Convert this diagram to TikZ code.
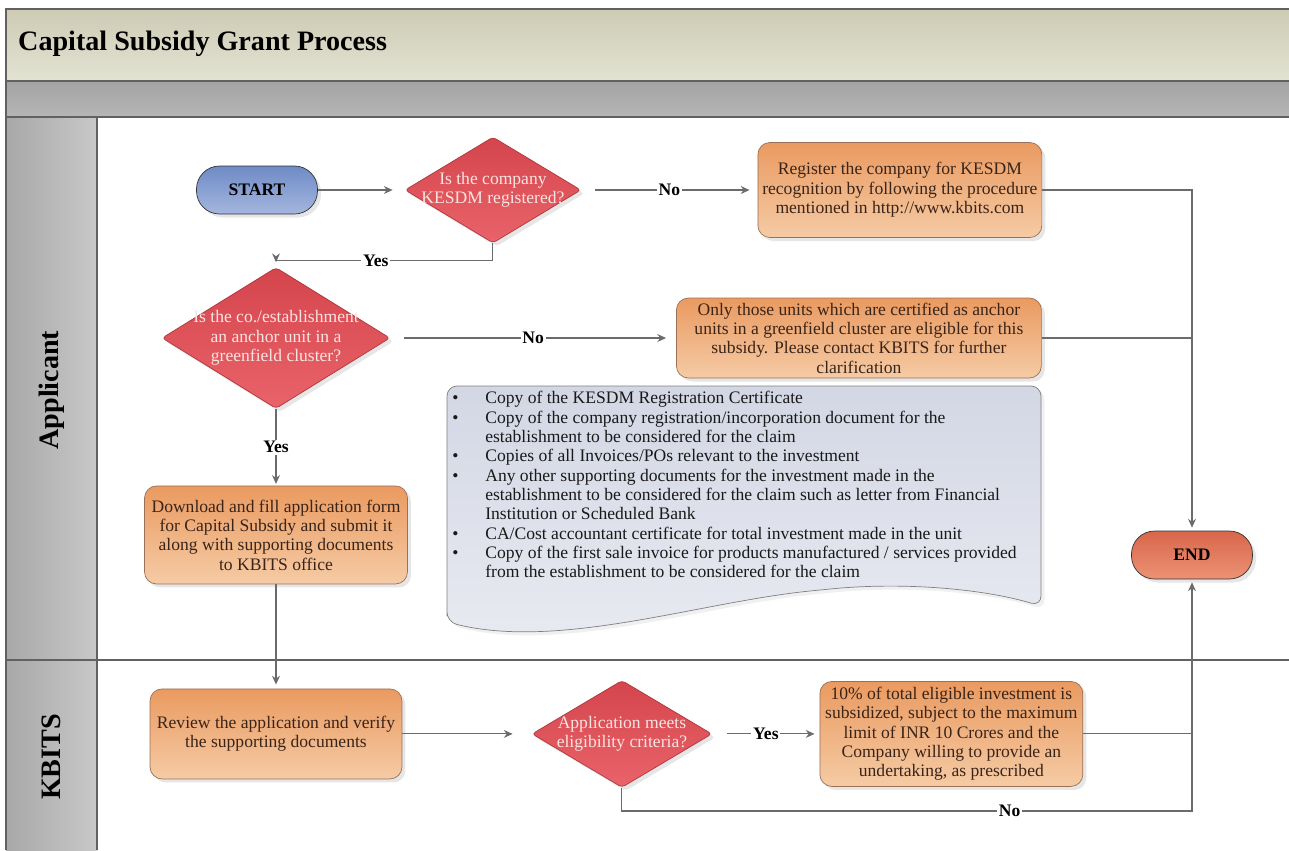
\documentclass[tikz,border=0pt]{standalone}
\usepackage{fontspec}
\setmainfont{Liberation Serif}
\usetikzlibrary{positioning,calc,shapes.geometric,shadows,arrows.meta}
\colorlet{colorLine}{black!58}
\colorlet{colorFrame}{black!62}
\definecolor{colorBoxTop}{HTML}{EA9A60}
\definecolor{colorBoxBot}{HTML}{F5CBA5}
\definecolor{colorBoxDraw}{HTML}{9A7058}
\definecolor{colorBoxText}{HTML}{3A2418}
\definecolor{colorDecTop}{HTML}{D4454C}
\definecolor{colorDecBot}{HTML}{EA636A}
\definecolor{colorDecDraw}{HTML}{B0353C}
\definecolor{colorDecText}{HTML}{F8E4E2}
\definecolor{colorStartTop}{HTML}{6F8BC6}
\definecolor{colorStartBot}{HTML}{A4B6DE}
\definecolor{colorEndTop}{HTML}{D8664A}
\definecolor{colorEndBot}{HTML}{EC9276}
\definecolor{colorDocTop}{HTML}{D3D7E4}
\definecolor{colorDocBot}{HTML}{E9EBF2}
\definecolor{colorTitleTop}{HTML}{CDCBB4}
\definecolor{colorTitleBot}{HTML}{E3E3D4}
\definecolor{colorBandTop}{HTML}{A3A3A3}
\definecolor{colorBandBot}{HTML}{B6B6B6}
\definecolor{colorLaneL}{HTML}{A8A8A8}
\definecolor{colorLaneR}{HTML}{C8C8C8}
\tikzset{
   every path/.style={>={Stealth[length=5pt,width=4.5pt]}},
   flow/.style={->,color=colorLine,semithick,shorten >=1pt},
   joint/.style={-,color=colorLine,semithick},
   lbl/.style={fill=white,inner sep=1pt,text=black,font=\bfseries\fontsize{10}{11}\selectfont},
   proc/.style={rectangle,rounded corners=0.24cm,draw=colorBoxDraw,top color=colorBoxTop,bottom color=colorBoxBot,
      text=colorBoxText,align=center,inner sep=1pt,font=\fontsize{10}{11}\selectfont,
      drop shadow={opacity=0.2,shadow xshift=2pt,shadow yshift=-2pt}},
   dec/.style={diamond,rounded corners=2pt,draw=colorDecDraw,top color=colorDecTop,bottom color=colorDecBot,inner sep=0pt,
      drop shadow={opacity=0.2,shadow xshift=2pt,shadow yshift=-2pt}},
   dectext/.style={text=colorDecText,align=center,font=\fontsize{10}{11}\selectfont},
   term/.style={rectangle,rounded corners=0.46cm,draw=black!80,font=\bfseries\fontsize{10}{11}\selectfont,
      minimum width=2.42cm,minimum height=0.96cm,drop shadow={opacity=0.2,shadow xshift=2pt,shadow yshift=-2pt}},
   lanetext/.style={rotate=90,font=\bfseries\fontsize{16}{18}\selectfont},
   docshape/.style={draw=black!50,top color=colorDocTop,bottom color=colorDocBot,rounded corners=0.2cm},
   doctext/.style={inner sep=0pt,font=\fontsize{10}{11}\selectfont,text=black!90},
}
\begin{document}
\begin{tikzpicture}[x=0.02cm,y=-0.02cm]
      \useasboundingbox (0,0) rectangle (1289,850);

      % swimlane frame
      \fill [top color=colorTitleTop, bottom color=colorTitleBot] (6,9) rectangle (1289,81);
      \fill [top color=colorBandTop, bottom color=colorBandBot] (6,81) rectangle (1289,117);
      \fill [left color=colorLaneL, right color=colorLaneR] (6,117) rectangle (97,850);
      \draw [colorFrame, thick] (1289,9) -- (6,9) -- (6,850);
      \draw [colorFrame, thick] (6,81) -- (1289,81);
      \draw [colorFrame, thick] (6,117) -- (1289,117);
      \draw [colorFrame, thick] (97,117) -- (97,850);
      \draw [colorFrame, thick] (6,660) -- (1289,660);

      \node (title) [anchor=west, font=\bfseries\fontsize{16}{18}\selectfont] at (12,44)
        {Capital Subsidy Grant Process};
      \node (applicant) [lanetext] at (52,390) {Applicant};
      \node (kbits) [lanetext] at (51,757) {KBITS};

      % applicant lane
      \node (start) [term, top color=colorStartTop, bottom color=colorStartBot] at (257,190) {START};

      \node (d1) [dec, right of = start, node distance = 4.72cm,
        minimum width=3.52cm, minimum height=2.12cm,
        label={[dectext]center:{Is the company\\KESDM registered?}}] {};

      \node (r1) [proc, right of = d1, node distance = 8.14cm,
        minimum width=5.68cm, minimum height=1.9cm]
        {Register the company for KESDM\\recognition by following the procedure\\mentioned in http://www.kbits.com};

      \node (d2) [dec, minimum width=4.56cm, minimum height=2.82cm,
        label={[dectext]center:{Is the co./establishment\\an anchor unit in a\\greenfield cluster?}}]
        at (276,338) {};

      \node (r2) [proc, right of = d2, node distance = 11.66cm,
        minimum width=7.3cm, minimum height=1.6cm]
        {Only those units which are certified as anchor\\units in a greenfield cluster are eligible for this\\subsidy. Please contact KBITS for further\\clarification};

      \node (r3) [proc, below of = d2, node distance = 3.94cm,
        minimum width=5.26cm, minimum height=1.96cm]
        {Download and fill application form\\for Capital Subsidy and submit it\\along with supporting documents\\to KBITS office};

      \node (end) [term, top color=colorEndTop, bottom color=colorEndBot] at (1192,555) {END};

      % document list
      \draw [docshape, drop shadow={opacity=0.12,shadow xshift=2pt,shadow yshift=-2pt}]
        (447,622) -- (447,386) -- (1041,386) -- (1041,606)
        .. controls (980,588) and (900,582) .. (820,590)
        .. controls (700,602) and (560,650) .. (447,622) -- cycle;
      \node (docs) [doctext, anchor=north west] at (452,390) {%
        \begin{tabular}{@{}p{0.66cm}@{}l@{}}
        \textbullet & Copy of the KESDM Registration Certificate\\
        \textbullet & Copy of the company registration/incorporation document for the\\
                    & establishment to be considered for the claim\\
        \textbullet & Copies of all Invoices/POs relevant to the investment\\
        \textbullet & Any other supporting documents for the investment made in the\\
                    & establishment to be considered for the claim such as letter from Financial\\
                    & Institution or Scheduled Bank\\
        \textbullet & CA/Cost accountant certificate for total investment made in the unit\\
        \textbullet & Copy of the first sale invoice for products manufactured / services provided\\
                    & from the establishment to be considered for the claim
        \end{tabular}};

      % kbits lane
      \node (r4) [proc, below of = r3, node distance = 3.98cm,
        minimum width=5.04cm, minimum height=1.8cm]
        {Review the application and verify\\the supporting documents};

      \node (d3) [dec, right of = r4, node distance = 6.92cm,
        minimum width=3.6cm, minimum height=2.14cm,
        label={[dectext]center:{Application meets\\eligibility criteria?}}] {};

      \node (r5) [proc, right of = d3, node distance = 6.59cm,
        minimum width=5.26cm, minimum height=2.1cm]
        {10\% of total eligible investment is\\subsidized, subject to the maximum\\limit of INR 10 Crores and the\\Company willing to provide an\\undertaking, as prescribed};

      \coordinate (nobend) at (1192,811);

      % connectors
      \draw [flow, shorten >=0.24cm] (start) -- (d1);
      \draw [flow, shorten <=0.28cm, shorten >=0.16cm] (d1.east) -- node[lbl] {No} (r1.west);
      \draw [flow, shorten >=0.1cm] (d1.south) -- ++(0,17) -| node[lbl, pos=0.27] {Yes} (d2.north);
      \draw [flow, shorten >=0.06cm] (r1.east) -| (end.north);
      \draw [flow, shorten <=0.28cm, shorten >=0.2cm] (d2.east) -- node[lbl] {No} (r2.west);
      \draw [joint] (r2.east) -- (r2.east -| end);
      \draw [flow] (d2.south) -- node[lbl] {Yes} (r3.north);
      \draw [flow, shorten >=0.08cm] (r3.south) -- (r4.north);
      \draw [flow, shorten >=0.38cm] (r4.east) -- (d3.west);
      \draw [flow, shorten <=0.3cm, shorten >=0.1cm] (d3.east) -- node[lbl] {Yes} (r5.west);
      \draw [joint] (r5.east) -- (r5.east -| end);
      \draw [flow, shorten >=0.06cm] (d3.south) |- node[lbl, pos=0.84] {No} (nobend) -- (end.south);
\end{tikzpicture}
\end{document}
